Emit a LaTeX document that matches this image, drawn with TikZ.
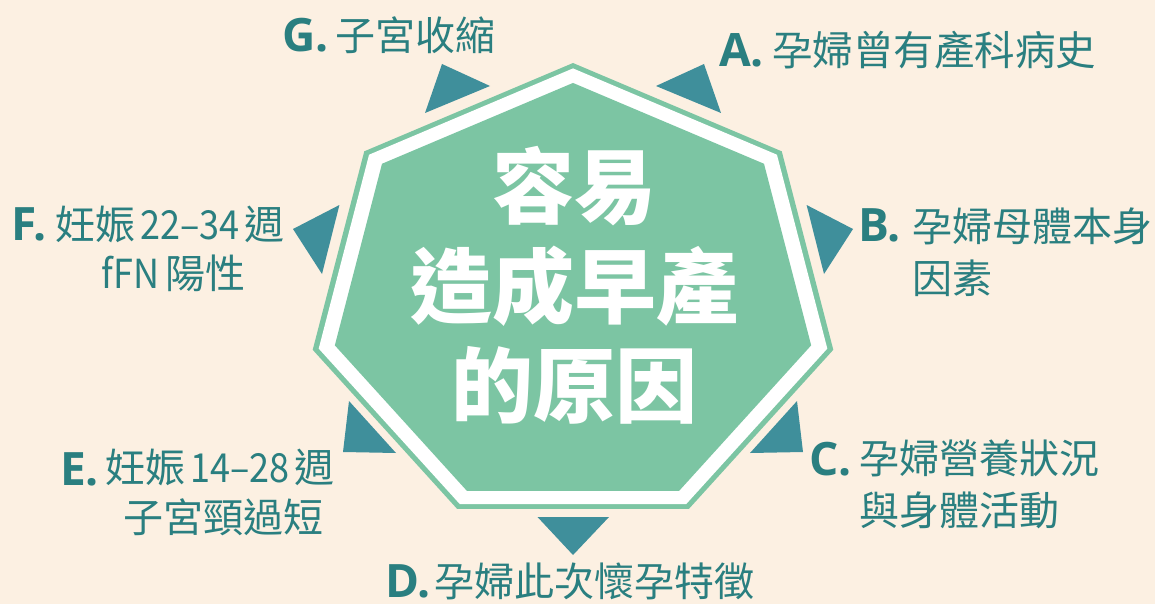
\documentclass[tikz,border=0pt]{standalone}
\usepackage{fontspec}
\newfontfamily\cjk{Noto Sans CJK TC}
\newfontfamily\latf{Open Sans}
\definecolor{bg}{HTML}{FCF0E2}
\definecolor{grn}{HTML}{7CC5A3}
\definecolor{tealtri}{HTML}{3F8F9B}
\definecolor{tealtxt}{HTML}{2A7F80}
\newcommand{\narrow}[1]{\scalebox{0.9}[1]{#1}}
\begin{document}
\begin{tikzpicture}[x=1pt,y=-1pt,
 letter/.style={font=\latf\bfseries\fontsize{46}{46}\selectfont, text=tealtxt, inner sep=0pt, anchor=west},
 lbl/.style={font=\cjk\fontsize{40}{52}\selectfont, text=tealtxt, inner sep=0pt, anchor=west},
 tri/.style={fill=tealtri},
 title/.style={font=\cjk\bfseries\fontsize{82}{100}\selectfont, text=white, inner sep=0pt}]
\fill[bg] (0,0) rectangle (1155,604);
\useasboundingbox (0,0) rectangle (1155,604);
% heptagon
\foreach \i in {0,...,6}{
 \coordinate (o\i) at ({573+267*cos(90-\i*360/7)}, {297.6-234.6*sin(90-\i*360/7)});
 \coordinate (w\i) at ({573+0.977*267*cos(90-\i*360/7)}, {297.6-0.977*234.6*sin(90-\i*360/7)});
 \coordinate (n\i) at ({573+0.915*267*cos(90-\i*360/7)}, {297.6-0.915*234.6*sin(90-\i*360/7)});
}
\fill[grn] (o0)--(o1)--(o2)--(o3)--(o4)--(o5)--(o6)--cycle;
\fill[white] (w0)--(w1)--(w2)--(w3)--(w4)--(w5)--(w6)--cycle;
\fill[grn] (n0)--(n1)--(n2)--(n3)--(n4)--(n5)--(n6)--cycle;
% triangles
\fill[tri] (442,64) -- (490,86) -- (425,113) -- cycle;
\fill[tri] (704,64) -- (656,86) -- (721,113) -- cycle;
\fill[tri] (806.6,205) -- (853,229) -- (824,274) -- cycle;
\fill[tri] (339.4,205) -- (293,229) -- (322,274) -- cycle;
\fill[tri] (797,401) -- (803,452) -- (750,453) -- cycle;
\fill[tri] (349,401) -- (343,452) -- (396,453) -- cycle;
\fill[tri] (537.5,517) -- (609,517) -- (573,555) -- cycle;
% title
\node[title] (t1) at (574,186) {容易};
\node[title] (t2) at (574,286) {造成早產};
\node[title] (t3) at (574,385) {的原因};
% labels
\node[letter] (Gl) at (282,35) {G.};
\node[lbl] (Gt) at (335,35) {子宮收縮};
\node[letter] (Al) at (719,50.5) {A.};
\node[lbl] (At) at (772,50) {\fontsize{40.5}{52}\selectfont 孕婦曾有產科病史};
\node[letter] (Bl) at (858,225.5) {B.};
\node[lbl] (Bt1) at (912,226.5) {孕婦母體本身};
\node[lbl] (Bt2) at (912,278) {因素};
\node[letter] (Cl) at (809,459.5) {C.};
\node[lbl] (Ct1) at (859,458.5) {孕婦營養狀況};
\node[lbl] (Ct2) at (859,510) {與身體活動};
\node[letter] (Dl) at (385,581) {D.};
\node[lbl] (Dt) at (434,581) {孕婦此次懷孕特徵};
\node[letter] (El) at (60,469.5) {E.};
\node[lbl] (Et1) at (105,467) {妊娠\hspace{5pt}\narrow{14–28}\hspace{5pt}週};
\node[lbl, anchor=center] (Et2) at (223,517.5) {子宮頸過短};
\node[letter] (Fl) at (11,224.5) {F.};
\node[lbl] (Ft1) at (55,224.5) {妊娠\hspace{5pt}\narrow{22–34}\hspace{5pt}週};
\node[lbl, anchor=center] (Ft2) at (173.5,273.5) {\narrow{fFN}\hspace{6pt}陽性};
\end{tikzpicture}
\end{document}
